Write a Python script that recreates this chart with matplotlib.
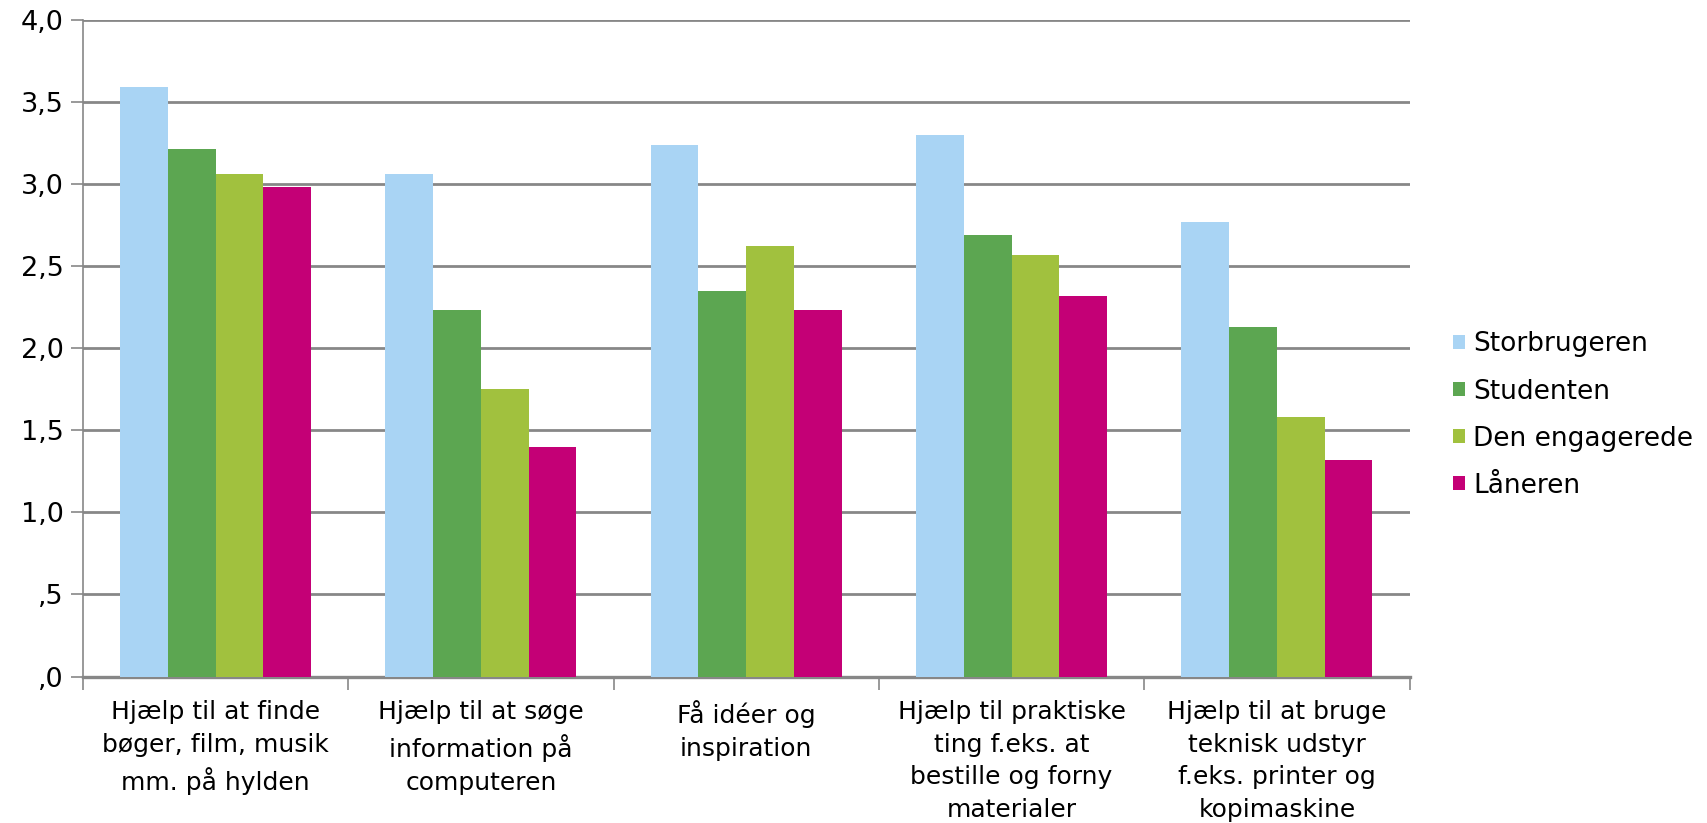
"""
Grouped bar chart: rated value of library help by user segment.
"""

import numpy as np
import matplotlib

matplotlib.use("Agg")
import matplotlib.pyplot as plt
from matplotlib.ticker import FixedLocator

categories = [
    "Hjælp til at finde\nbøger, film, musik\nmm. på hylden",
    "Hjælp til at søge\ninformation på\ncomputeren",
    "Få idéer og\ninspiration",
    "Hjælp til praktiske\nting f.eks. at\nbestille og forny\nmaterialer",
    "Hjælp til at bruge\nteknisk udstyr\nf.eks. printer og\nkopimaskine",
]
segments = ["Storbrugeren", "Studenten", "Den engagerede", "Låneren"]

storbrugeren = [3.59, 3.06, 3.24, 3.30, 2.77]
studenten = [3.21, 2.23, 2.35, 2.69, 2.13]
den_engagerede = [3.06, 1.75, 2.62, 2.57, 1.58]
laaneren = [2.98, 1.40, 2.23, 2.32, 1.32]

y_ticks = [0.0, 0.5, 1.0, 1.5, 2.0, 2.5, 3.0, 3.5, 4.0]
y_tick_labels = [",0", ",5", "1,0", "1,5", "2,0", "2,5", "3,0", "3,5", "4,0"]

colors = ["#A9D4F4", "#5CA651", "#A1C13E", "#C40076"]
grid_color = "#878787"

plt.rcParams["font.family"] = ["DejaVu Sans"]
fig = plt.figure(figsize=(17.08, 8.23), dpi=100)
ax = fig.add_axes([0.0485, 0.178, 0.7768, 0.798])

series = [storbrugeren, studenten, den_engagerede, laaneren]
bar_w = 0.18
centers = np.arange(len(categories)) + 0.5
for i, (name, values) in enumerate(zip(segments, series)):
    offset = (i - 1.5) * bar_w
    ax.bar(centers + offset, values, width=bar_w, color=colors[i],
           label=name, zorder=3, linewidth=0)

ax.set_xlim(0, len(categories))
ax.set_ylim(0, 4.0)
ax.set_yticks(y_ticks)
ax.set_yticklabels(y_tick_labels)
ax.yaxis.grid(True, color=grid_color, linewidth=2, zorder=0)
ax.set_axisbelow(True)

ax.set_xticks(centers)
ax.set_xticklabels(categories, linespacing=1.45)
ax.xaxis.set_minor_locator(FixedLocator(np.arange(len(categories) + 1)))
ax.tick_params(axis="x", which="major", length=0, pad=17, labelsize=18)
ax.tick_params(axis="x", which="minor", length=9, width=1.2, color=grid_color)
ax.tick_params(axis="y", length=9, width=1.2, color=grid_color, pad=5,
               labelsize=19.5)

for side in ("top", "right"):
    ax.spines[side].set_visible(False)
ax.spines["left"].set_color(grid_color)
ax.spines["left"].set_linewidth(1.2)
ax.spines["bottom"].set_color(grid_color)
ax.spines["bottom"].set_linewidth(2.4)

ax.legend(loc="center left", bbox_to_anchor=(1.033, 0.398), frameon=False,
          fontsize=19, handlelength=0.45, handleheight=0.45, handletextpad=0.3,
          labelspacing=0.8, borderpad=0, borderaxespad=0)

fig.savefig("out.png", dpi=100)
